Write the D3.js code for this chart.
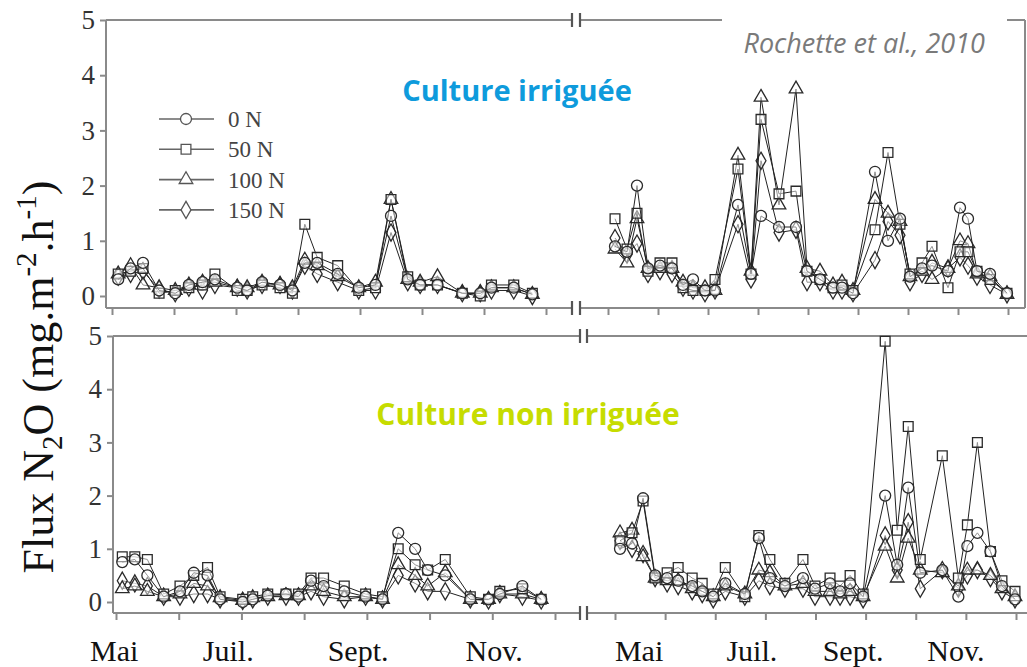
<!DOCTYPE html>
<html>
<head>
<meta charset="utf-8">
<script src="https://cdn.jsdelivr.net/npm/d3@7"></script>
<style>
  body { margin: 0; background: #fff; }
  svg { display: block; }
</style>
</head>
<body>
<div id="chart"></div>
<script>
var width = 1027,
    height = 667;

// sampling dates, in months from the first tick of each season
var datesY1 = [0.1,0.3,0.5,0.76,1.02,1.24,1.46,1.66,2.02,2.18,2.42,2.71,2.91,3.11,3.31,3.64,3.98,4.25,4.5,4.77,4.97,5.25,5.65,5.94,6.12,6.48,6.78];
var datesIrrY2 = [0.14,0.38,0.58,0.8,1.04,1.28,1.5,1.7,1.94,2.14,2.6,2.86,3.06,3.42,3.76,3.98,4.24,4.5,4.68,4.9,5.34,5.6,5.84,6.04,6.28,6.48,6.8,7.04,7.2,7.38,7.64,7.98];
var datesSecY2 = [0.1,0.34,0.56,0.8,1.04,1.26,1.54,1.74,1.96,2.2,2.59,2.87,3.09,3.39,3.75,3.99,4.29,4.49,4.69,4.95,5.39,5.63,5.85,6.09,6.53,6.85,7.03,7.23,7.49,7.72,7.98];

var series = ["0 N", "50 N", "100 N", "150 N"];

// Culture irriguee, year 1
var irrY1_0   = [0.3,0.5,0.6,0.1,0.05,0.2,0.25,0.3,0.15,0.1,0.25,0.2,0.1,0.6,0.6,0.4,0.15,0.2,1.45,0.3,0.2,0.2,0.05,0.05,0.15,0.15,0.03];
var irrY1_50  = [0.4,0.45,0.5,0.05,0.1,0.15,0.2,0.4,0.1,0.1,0.2,0.15,0.05,1.3,0.7,0.55,0.1,0.15,1.75,0.35,0.2,0.2,0.05,0.0,0.2,0.2,0.05];
var irrY1_100 = [0.4,0.55,0.2,0.15,0.1,0.2,0.25,0.25,0.15,0.15,0.25,0.2,0.15,0.65,0.55,0.35,0.15,0.25,1.75,0.3,0.25,0.35,0.05,0.05,0.15,0.15,0.03];
var irrY1_150 = [0.35,0.4,0.45,0.12,0.05,0.15,0.1,0.2,0.15,0.1,0.2,0.2,0.1,0.55,0.4,0.25,0.1,0.1,1.15,0.25,0.2,0.2,0.05,0.05,0.1,0.1,0.0];

// Culture irriguee, year 2
var irrY2_0   = [0.9,0.8,2.0,0.5,0.55,0.5,0.2,0.3,0.1,0.1,1.65,0.4,1.45,1.25,1.25,0.45,0.3,0.15,0.15,0.05,2.25,1.0,1.4,0.35,0.5,0.55,0.45,1.6,1.4,0.45,0.4,0.05];
var irrY2_50  = [1.4,0.85,1.5,0.45,0.6,0.6,0.15,0.1,0.1,0.3,2.3,0.4,3.2,1.85,1.9,0.45,0.3,0.15,0.2,0.1,1.2,2.6,1.3,0.4,0.6,0.9,0.15,0.8,0.8,0.45,0.3,0.05];
var irrY2_100 = [0.85,0.6,1.4,0.5,0.5,0.5,0.25,0.15,0.15,0.1,2.55,0.45,3.6,1.65,3.75,0.5,0.45,0.2,0.25,0.1,1.75,1.5,1.35,0.35,0.45,0.3,0.5,1.0,0.95,0.4,0.35,0.03];
var irrY2_150 = [1.05,0.75,0.95,0.4,0.45,0.4,0.15,0.1,0.05,0.1,1.3,0.3,2.45,1.15,1.2,0.25,0.25,0.1,0.1,0.05,0.65,1.35,1.1,0.25,0.4,0.6,0.5,0.7,0.55,0.35,0.2,0.03];

// Culture non irriguee, year 1
var secY1_0   = [0.75,0.8,0.5,0.1,0.2,0.55,0.5,0.05,0.0,0.05,0.12,0.15,0.1,0.4,0.3,0.2,0.1,0.05,1.3,1.0,0.6,0.5,0.05,0.05,0.15,0.3,0.05];
var secY1_50  = [0.85,0.85,0.8,0.15,0.3,0.5,0.65,0.1,0.05,0.1,0.15,0.15,0.15,0.45,0.45,0.3,0.15,0.1,1.0,0.7,0.6,0.8,0.1,0.05,0.2,0.25,0.05];
var secY1_100 = [0.25,0.3,0.2,0.1,0.15,0.35,0.3,0.08,0.03,0.08,0.1,0.12,0.12,0.3,0.2,0.1,0.1,0.05,0.7,0.5,0.3,0.55,0.05,0.05,0.15,0.15,0.05];
var secY1_150 = [0.4,0.35,0.3,0.1,0.1,0.15,0.15,0.05,0.02,0.05,0.1,0.1,0.1,0.2,0.1,0.05,0.1,0.05,0.5,0.35,0.2,0.2,0.05,0.03,0.15,0.1,0.03];

// Culture non irriguee, year 2
var secY2_0   = [1.0,1.1,1.95,0.5,0.45,0.4,0.3,0.2,0.1,0.35,0.15,1.2,0.45,0.3,0.45,0.25,0.35,0.2,0.35,0.1,2.0,0.7,2.15,0.55,0.6,0.1,1.05,1.3,0.95,0.3,0.05];
var secY2_50  = [1.15,1.3,1.9,0.45,0.55,0.65,0.45,0.35,0.15,0.65,0.1,1.25,0.8,0.35,0.8,0.3,0.45,0.3,0.5,0.15,4.9,1.35,3.3,0.8,2.75,0.45,1.45,3.0,0.95,0.4,0.2];
var secY2_100 = [1.3,1.35,0.85,0.45,0.4,0.4,0.25,0.2,0.1,0.3,0.15,0.6,0.55,0.3,0.35,0.2,0.2,0.15,0.2,0.1,1.05,0.45,1.2,0.6,0.55,0.3,0.6,0.6,0.5,0.25,0.1];
var secY2_150 = [1.15,1.0,0.9,0.45,0.35,0.3,0.2,0.15,0.05,0.2,0.1,0.4,0.3,0.25,0.25,0.1,0.1,0.1,0.1,0.05,1.25,0.6,1.5,0.25,0.6,0.25,0.5,0.6,0.45,0.2,0.05];

var yTicks = [0, 1, 2, 3, 4, 5];
var monthTicksY1 = d3.range(0, 8);
var monthTicksY2 = d3.range(0, 9);
var monthNames = ["Mai", "Juil.", "Sept.", "Nov."];
var monthPosY1 = [-0.03, 1.79, 3.86, 6.03];
var monthPosY2 = [0.48, 2.73, 4.75, 6.8];

var svg = d3.select("#chart").append("svg")
    .attr("width", width)
    .attr("height", height);

var frameColor = "#8a8a8a";

// panel geometry
var panels = [
    { top: 20, bottom: 308, y0: 296, left: 106, right: 1025,
      r1: [112, 546], r2: [608, 1008], brk: [572, 580],
      dates2: datesIrrY2,
      y1data: [irrY1_0, irrY1_50, irrY1_100, irrY1_150],
      y2data: [irrY2_0, irrY2_50, irrY2_100, irrY2_150] },
    { top: 336, bottom: 613, y0: 602, left: 113, right: 1040,
      r1: [116, 555], r2: [615, 1016], brk: [580, 587],
      dates2: datesSecY2,
      y1data: [secY1_0, secY1_50, secY1_100, secY1_150],
      y2data: [secY2_0, secY2_50, secY2_100, secY2_150] }
];

var symbols = [d3.symbolCircle, d3.symbolSquare, d3.symbolTriangle, d3.symbolDiamond];
var symSizes = [95, 95, 80, 85];

function drawMarks(g, x, y, dates, vals, k) {
    var pts = dates.map(function(d, i) { return [d, vals[i]]; });
    var line = d3.line()
        .x(function(d) { return x(d[0]); })
        .y(function(d) { return y(d[1]); });
    g.append("path")
        .datum(pts)
        .attr("d", line)
        .attr("fill", "none")
        .attr("stroke", "#222")
        .attr("stroke-width", 1);
    g.selectAll(null)
        .data(pts)
        .enter().append("path")
        .attr("transform", function(d) { return "translate(" + x(d[0]) + "," + y(d[1]) + ")"; })
        .attr("d", d3.symbol().type(symbols[k]).size(symSizes[k]))
        .attr("fill", "#fff")
        .attr("fill-opacity", 0.5)
        .attr("stroke", "#2a2a2a")
        .attr("stroke-width", 1.3);
}

panels.forEach(function(p, pi) {
    var y = d3.scaleLinear().domain([0, 5]).range([p.y0, p.top]);
    var x1 = d3.scaleLinear().domain([0, 7]).range(p.r1);
    var x2 = d3.scaleLinear().domain([0, 8]).range(p.r2);

    var g = svg.append("g");

    // frame lines (broken at the season gap)
    [p.top, p.bottom].forEach(function(yy) {
        g.append("line").attr("x1", p.left).attr("x2", p.brk[0]).attr("y1", yy).attr("y2", yy);
        g.append("line").attr("x1", p.brk[1]).attr("x2", p.right).attr("y1", yy).attr("y2", yy);
        p.brk.forEach(function(bx) {
            g.append("line").attr("x1", bx).attr("x2", bx).attr("y1", yy - 7).attr("y2", yy + 7)
                .attr("stroke-width", 2.2).attr("stroke", "#555");
        });
    });
    g.append("line").attr("x1", p.left).attr("x2", p.left).attr("y1", p.top).attr("y2", p.bottom);
    g.append("line").attr("x1", p.right).attr("x2", p.right).attr("y1", p.top).attr("y2", p.bottom);
    g.selectAll("line").filter(function() { return !this.getAttribute("stroke"); })
        .attr("stroke", frameColor).attr("stroke-width", 2);

    // y axis
    var yAxis = svg.append("g")
        .attr("transform", "translate(" + p.left + ",0)")
        .call(d3.axisLeft(y).tickValues(yTicks).tickSize(6).tickPadding(5).tickSizeOuter(0).tickFormat(d3.format("d")));
    yAxis.select(".domain").remove();
    yAxis.selectAll(".tick line").attr("stroke", frameColor).attr("stroke-width", 2);
    yAxis.selectAll(".tick text")
        .attr("font-family", "'Liberation Serif', 'Times New Roman', serif")
        .attr("font-size", 27)
        .attr("fill", "#333");

    // x axes (month ticks)
    [[x1, monthTicksY1], [x2, monthTicksY2]].forEach(function(a) {
        var xa = svg.append("g")
            .attr("transform", "translate(0," + p.bottom + ")")
            .call(d3.axisBottom(a[0]).tickValues(a[1]).tickSize(7).tickFormat(""));
        xa.select(".domain").remove();
        xa.selectAll(".tick line").attr("stroke", frameColor).attr("stroke-width", 2);
    });

    // data
    var dg = svg.append("g");
    for (var k = 3; k >= 0; k--) {
        drawMarks(dg, x1, y, datesY1, p.y1data[k], k);
        drawMarks(dg, x2, y, p.dates2, p.y2data[k], k);
    }

    // month labels on the lower panel
    if (pi === 1) {
        [[x1, monthPosY1], [x2, monthPosY2]].forEach(function(a) {
            svg.selectAll(null)
                .data(monthNames)
                .enter().append("text")
                .attr("x", function(d, i) { return a[0](a[1][i]); })
                .attr("y", 661)
                .attr("text-anchor", "middle")
                .attr("font-family", "'Liberation Serif', 'Times New Roman', serif")
                .attr("font-size", 30)
                .attr("fill", "#111")
                .text(function(d) { return d; });
        });
    }
});

// citation, on a white box that hides part of the top frame
svg.append("rect")
    .attr("x", 722).attr("y", 0).attr("width", 285).attr("height", 70)
    .attr("fill", "#fff");
svg.append("text")
    .attr("x", 985).attr("y", 53)
    .attr("text-anchor", "end")
    .attr("font-family", "'Open Sans', sans-serif")
    .attr("font-style", "italic")
    .attr("font-size", 27)
    .attr("fill", "#7a7a7a")
    .text("Rochette et al., 2010");

// panel titles
svg.append("text")
    .attr("x", 517).attr("y", 101)
    .attr("text-anchor", "middle")
    .attr("font-family", "'Open Sans', sans-serif")
    .attr("font-weight", "bold")
    .attr("font-size", 29)
    .attr("fill", "#0e9bdc")
    .text("Culture irriguée");

svg.append("text")
    .attr("x", 528).attr("y", 425)
    .attr("text-anchor", "middle")
    .attr("font-family", "'Open Sans', sans-serif")
    .attr("font-weight", "bold")
    .attr("font-size", 30)
    .attr("fill", "#c6dc00")
    .text("Culture non irriguée");

// legend
var legend = svg.append("g").attr("transform", "translate(159,119)");
series.forEach(function(s, k) {
    var row = legend.append("g").attr("transform", "translate(0," + (k * 30.3) + ")");
    row.append("line").attr("x1", 0).attr("x2", 55).attr("y1", 0).attr("y2", 0)
        .attr("stroke", "#666").attr("stroke-width", 1.6);
    row.append("path")
        .attr("transform", "translate(27,0)")
        .attr("d", d3.symbol().type(symbols[k]).size(symSizes[k]))
        .attr("fill", "#fff")
        .attr("stroke", "#555")
        .attr("stroke-width", 1.3);
    row.append("text")
        .attr("x", 69).attr("y", 8)
        .attr("font-family", "'Liberation Serif', 'Times New Roman', serif")
        .attr("font-size", 23)
        .attr("fill", "#444")
        .text(s);
});

// y axis title
var yt = svg.append("text")
    .attr("transform", "translate(53,377) rotate(-90)")
    .attr("text-anchor", "middle")
    .attr("font-family", "'Liberation Serif', 'Times New Roman', serif")
    .attr("font-size", 44)
    .attr("fill", "#111");
yt.append("tspan").text("Flux N");
yt.append("tspan").attr("font-size", 29).attr("dy", 9).text("2");
yt.append("tspan").attr("dy", -9).text("O (mg.m");
yt.append("tspan").attr("font-size", 29).attr("dy", -17).text("-2");
yt.append("tspan").attr("dy", 17).text(".h");
yt.append("tspan").attr("font-size", 29).attr("dy", -17).text("-1");
yt.append("tspan").attr("dy", 17).text(")");
</script>
</body>
</html>
